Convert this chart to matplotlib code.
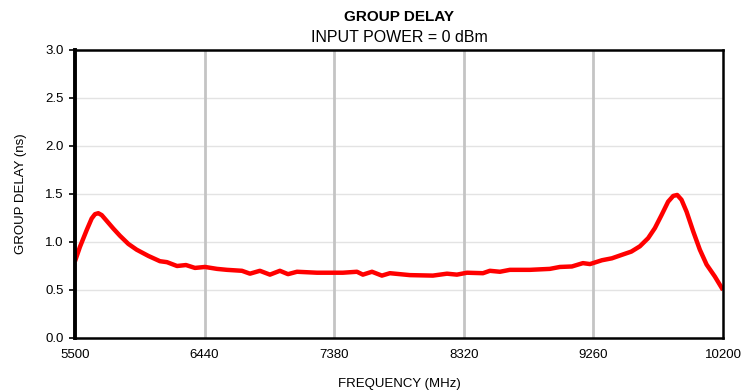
import matplotlib
matplotlib.use("Agg")
import matplotlib.pyplot as plt

plt.rcParams["font.family"] = ["Liberation Sans", "DejaVu Sans"]

# group delay sweep, input power 0 dBm
FREQ_MHZ = [
    5500, 5536, 5585, 5621, 5645, 5669, 5694, 5730, 5778, 5826,
    5887, 5947, 6032, 6116, 6167, 6240, 6305, 6370, 6443, 6530,
    6602, 6711, 6769, 6841, 6914, 6986, 7045, 7110, 7255, 7443,
    7545, 7588, 7654, 7726, 7784, 7929, 8096, 8198, 8270, 8343,
    8459, 8509, 8582, 8654, 8800, 8944, 9017, 9104, 9184, 9235,
    9322, 9394, 9474, 9535, 9597, 9657, 9706, 9754, 9802, 9839,
    9868, 9899, 9936, 9984, 10032, 10081, 10141, 10200,
]
DELAY_NS = [
    0.80, 0.95, 1.125, 1.245, 1.29, 1.30, 1.28, 1.22, 1.14, 1.065,
    0.98, 0.92, 0.855, 0.80, 0.79, 0.75, 0.76, 0.73, 0.74, 0.72,
    0.71, 0.70, 0.67, 0.70, 0.66, 0.70, 0.665, 0.69, 0.68, 0.68,
    0.69, 0.66, 0.69, 0.65, 0.675, 0.655, 0.65, 0.67, 0.66, 0.68,
    0.675, 0.70, 0.69, 0.71, 0.71, 0.72, 0.74, 0.745, 0.78, 0.77,
    0.81, 0.83, 0.87, 0.90, 0.955, 1.04, 1.145, 1.28, 1.42, 1.48,
    1.49, 1.44, 1.315, 1.11, 0.92, 0.765, 0.64, 0.50,
]

X_TICKS = [5500, 6440, 7380, 8320, 9260, 10200]
Y_TICKS = [0.0, 0.5, 1.0, 1.5, 2.0, 2.5, 3.0]


def main():

    fig = plt.figure(figsize=(7.41, 3.91), dpi=100)
    ax = fig.add_axes([75 / 741, 1 - 338 / 391, 648 / 741, 288 / 391])

    # light horizontal grid, heavier vertical grid
    for y in Y_TICKS[1:-1]:
        ax.axhline(y, color="#e3e3e3", lw=1.0, zorder=1)
    for x in X_TICKS[1:-1]:
        ax.axvline(x, color="#c4c4c4", lw=2.0, zorder=1)

    ax.plot(
        FREQ_MHZ,
        DELAY_NS,
        color="#ff0000",
        lw=3.2,
        solid_joinstyle="round",
        solid_capstyle="butt",
        zorder=3,
    )

    ax.set_xlim(5500, 10200)
    ax.set_ylim(0, 3.0)

    ax.set_xticks(X_TICKS)
    ax.set_xticklabels([str(x) for x in X_TICKS], fontsize=9.5)
    ax.set_yticks(Y_TICKS)
    ax.set_yticklabels([f"{y:.1f}" for y in Y_TICKS], fontsize=9.5)

    ax.tick_params(axis="x", length=0, pad=8)
    ax.tick_params(axis="y", length=4, width=1.2, direction="out", pad=4)

    for spine in ax.spines.values():
        spine.set_color("black")
        spine.set_linewidth(1.8)
        spine.set_zorder(4)
    ax.spines["left"].set_linewidth(2.8)

    ax.set_xlabel("FREQUENCY (MHz)", fontsize=9.5, labelpad=12)
    ax.set_ylabel("GROUP DELAY (ns)", fontsize=9.5, labelpad=13)

    fig.text(0.5385, 1 - 17 / 391, "GROUP DELAY", ha="center", va="center",
             fontsize=11, fontweight="bold")
    fig.text(0.5385, 1 - 38 / 391, "INPUT POWER = 0 dBm", ha="center",
             va="center", fontsize=11.5)

    fig.savefig("out.png", dpi=100)
    plt.close(fig)


if __name__ == "__main__":
    main()
